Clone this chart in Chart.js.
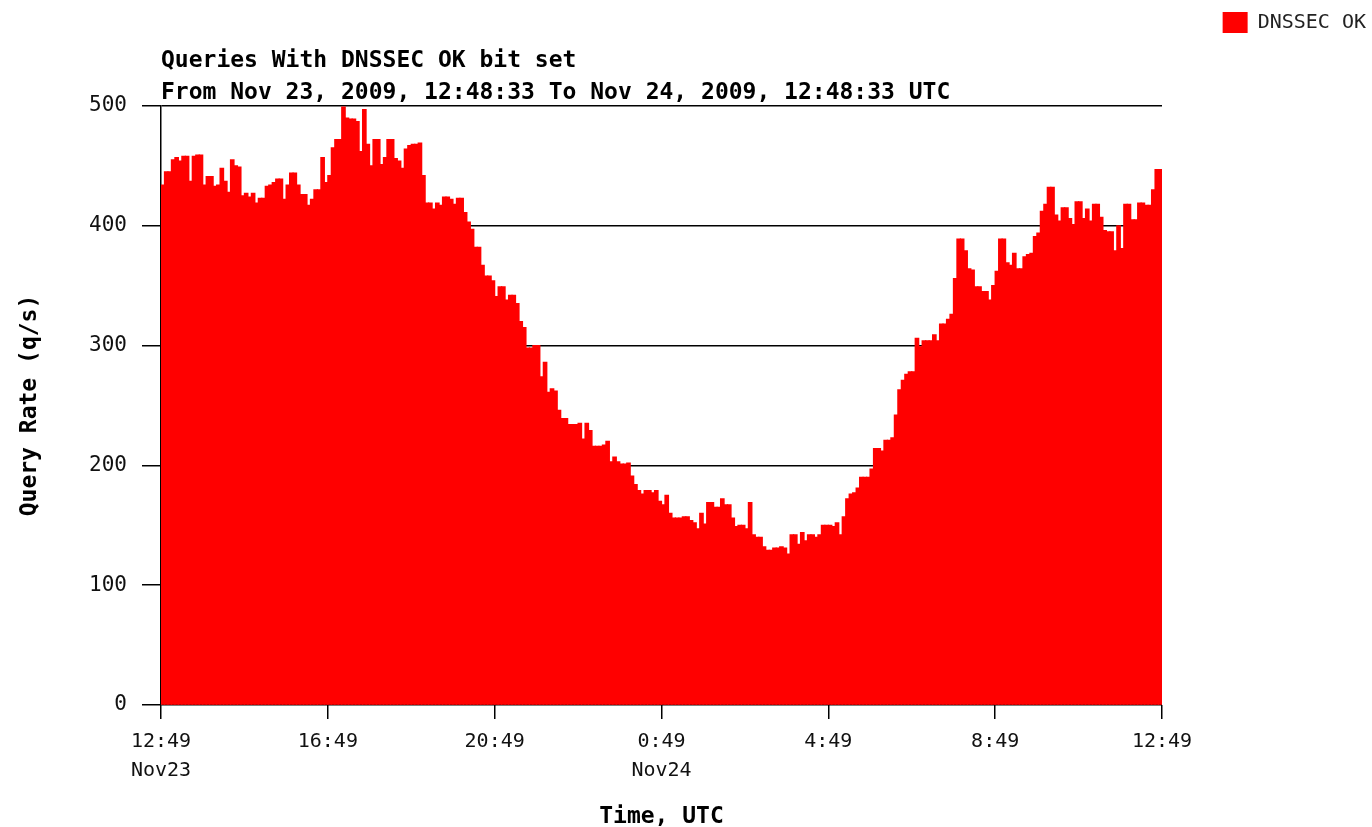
<!DOCTYPE html>
<html>
<head>
<meta charset="utf-8">
<title>Queries With DNSSEC OK bit set</title>
<script src="https://cdn.jsdelivr.net/npm/chart.js@4.4.1/dist/chart.umd.min.js"></script>
<style>
  html, body { margin: 0; padding: 0; background: #fff; }
  #wrap { width: 1372px; height: 827px; position: relative; }
</style>
</head>
<body>
<div id="wrap"><canvas id="chart"></canvas></div>
<script>
// --- data: one value per 5 minute bin, Nov 23 12:48:33 -> Nov 24 12:48:33 UTC ---
const queryRate = [
  434, 445, 445, 455, 457, 454, 458, 458, 437, 458,
  459, 459, 434, 441, 441, 433, 434, 448, 437, 428,
  455, 450, 449, 425, 427, 424, 427, 419, 423, 423,
  433, 434, 436, 439, 439, 422, 434, 444, 444, 434,
  426, 426, 417, 422, 430, 430, 457, 436, 442, 465,
  472, 472, 499, 490, 489, 489, 487, 462, 497, 468,
  450, 472, 472, 451, 457, 472, 472, 456, 454, 448,
  464, 467, 468, 468, 469, 442, 419, 419, 414, 419,
  417, 424, 424, 422, 418, 423, 423, 411, 403, 397,
  382, 382, 367, 358, 358,
  354, 341, 349, 349, 338, 342, 342, 335, 320, 315,
  298, 298, 300, 300, 274, 286, 261, 264, 262, 246,
  239, 239, 234, 234, 234, 235, 222, 235, 229, 216,
  216, 216, 217, 220, 203, 207, 203, 201, 201, 202,
  191, 184, 179,
  176, 179, 179, 177, 179, 170, 167, 175, 160, 156,
  156, 156, 157, 157, 154, 152, 147, 160, 151, 169,
  169, 165, 165, 172, 167, 167, 156, 149, 150, 150,
  147, 169, 142, 140, 140, 132, 129, 129, 131, 131,
  132, 131, 126, 142, 142, 134, 144, 137, 142, 142,
  140, 142, 150, 150, 150, 149, 152, 142, 157, 172,
  176, 177, 181, 190, 190, 190,
  197, 214, 214, 212, 221, 221, 223, 242, 263, 271,
  276, 278, 278, 306, 299, 304, 304, 304, 309, 304,
  318, 318, 322, 326,
  356, 389, 389, 379, 364, 363, 349, 349, 345, 345,
  338, 350, 362, 389, 389, 369, 367, 377, 364, 364,
  374, 376, 377, 391, 394, 412, 418, 432, 432, 409,
  404, 415, 415, 406, 401, 420, 420, 406, 414, 404,
  418, 418, 407, 396, 395, 395, 379, 400, 381, 418,
  418, 405, 405, 419, 419, 417, 417, 430, 447, 447
];
const binMinutes = 5;

// x axis: a tick every 4 hours
const tickStepMinutes = 240;
const timeTickLabels = [['12:49', 'Nov23'], '16:49', '20:49', ['0:49', 'Nov24'], '4:49', '8:49', '12:49'];

// y axis
const yMax = 500;
const yStep = 100;

const titleLines = [
  'Queries With DNSSEC OK bit set',
  'From Nov 23, 2009, 12:48:33 To Nov 24, 2009, 12:48:33 UTC'
];

// --- chart ---
const MONO = "'DejaVu Sans Mono', 'Liberation Mono', monospace";
Chart.defaults.color = '#000';
Chart.defaults.font.family = MONO;

const points = queryRate.map((v, i) => ({ x: i * binMinutes + binMinutes / 2, y: v }));

new Chart(document.getElementById('chart').getContext('2d'), {
  type: 'bar',
  data: {
    datasets: [{
      label: 'DNSSEC OK',
      data: points,
      backgroundColor: '#ff0000',
      borderWidth: 0,
      barPercentage: 1.0,
      categoryPercentage: 1.0,
      inflateAmount: 0.6,
      yAxisID: 'y'
    }]
  },
  options: {
    responsive: true,
    maintainAspectRatio: false,
    animation: false,
    layout: { padding: { top: 12, right: 6, left: 0, bottom: 0 } },
    plugins: {
      tooltip: { enabled: false },
      legend: {
        position: 'top',
        align: 'end',
        weight: 3000,
        labels: {
          boxWidth: 25,
          boxHeight: 21,
          padding: 0,
          color: '#222',
          font: { family: MONO, size: 20 }
        }
      },
      title: {
        display: true,
        text: titleLines,
        position: 'top',
        align: 'start',
        fullSize: false,
        color: '#000',
        padding: { top: 2, bottom: -3 },
        font: { family: MONO, size: 23, weight: 'bold', lineHeight: '32px' }
      }
    },
    scales: {
      x: {
        type: 'linear',
        min: 0,
        max: queryRate.length * binMinutes,
        offset: false,
        grid: {
          offset: false,
          drawOnChartArea: false,
          drawTicks: true,
          tickLength: 14,
          color: '#000',
          lineWidth: 1.5
        },
        border: { display: false },
        ticks: {
          stepSize: tickStepMinutes,
          autoSkip: false,
          maxRotation: 0,
          padding: 8,
          color: '#111',
          font: { family: MONO, size: 20, lineHeight: 1.45 },
          callback: (value) => timeTickLabels[Math.round(value / tickStepMinutes)]
        },
        title: {
          display: true,
          text: 'Time, UTC',
          color: '#000',
          padding: { top: 0, bottom: 0 },
          font: { family: MONO, size: 23, weight: 'bold', lineHeight: 0.9 }
        },
        afterFit: (scale) => { scale.height = 122; }
      },
      y: {
        type: 'linear',
        position: 'left',
        min: 0,
        max: yMax,
        grid: {
          color: '#000',
          lineWidth: 1.5,
          drawTicks: true,
          tickLength: 19
        },
        border: { display: true, color: '#000', width: 1.5 },
        ticks: {
          stepSize: yStep,
          padding: 15,
          color: '#111',
          font: { family: MONO, size: 21 }
        },
        title: {
          display: true,
          text: 'Query Rate (q/s)',
          color: '#000',
          padding: { top: 19, bottom: 0 },
          font: { family: MONO, size: 23, weight: 'bold', lineHeight: 1 }
        },
        afterFit: (scale) => { scale.width = 161; }
      },
      // empty space on the right, like the original image
      rightGap: {
        type: 'linear',
        position: 'right',
        display: true,
        grid: { display: false },
        border: { display: false },
        ticks: { display: false },
        afterFit: (scale) => { scale.width = 204; }
      }
    }
  }
});
</script>
</body>
</html>
